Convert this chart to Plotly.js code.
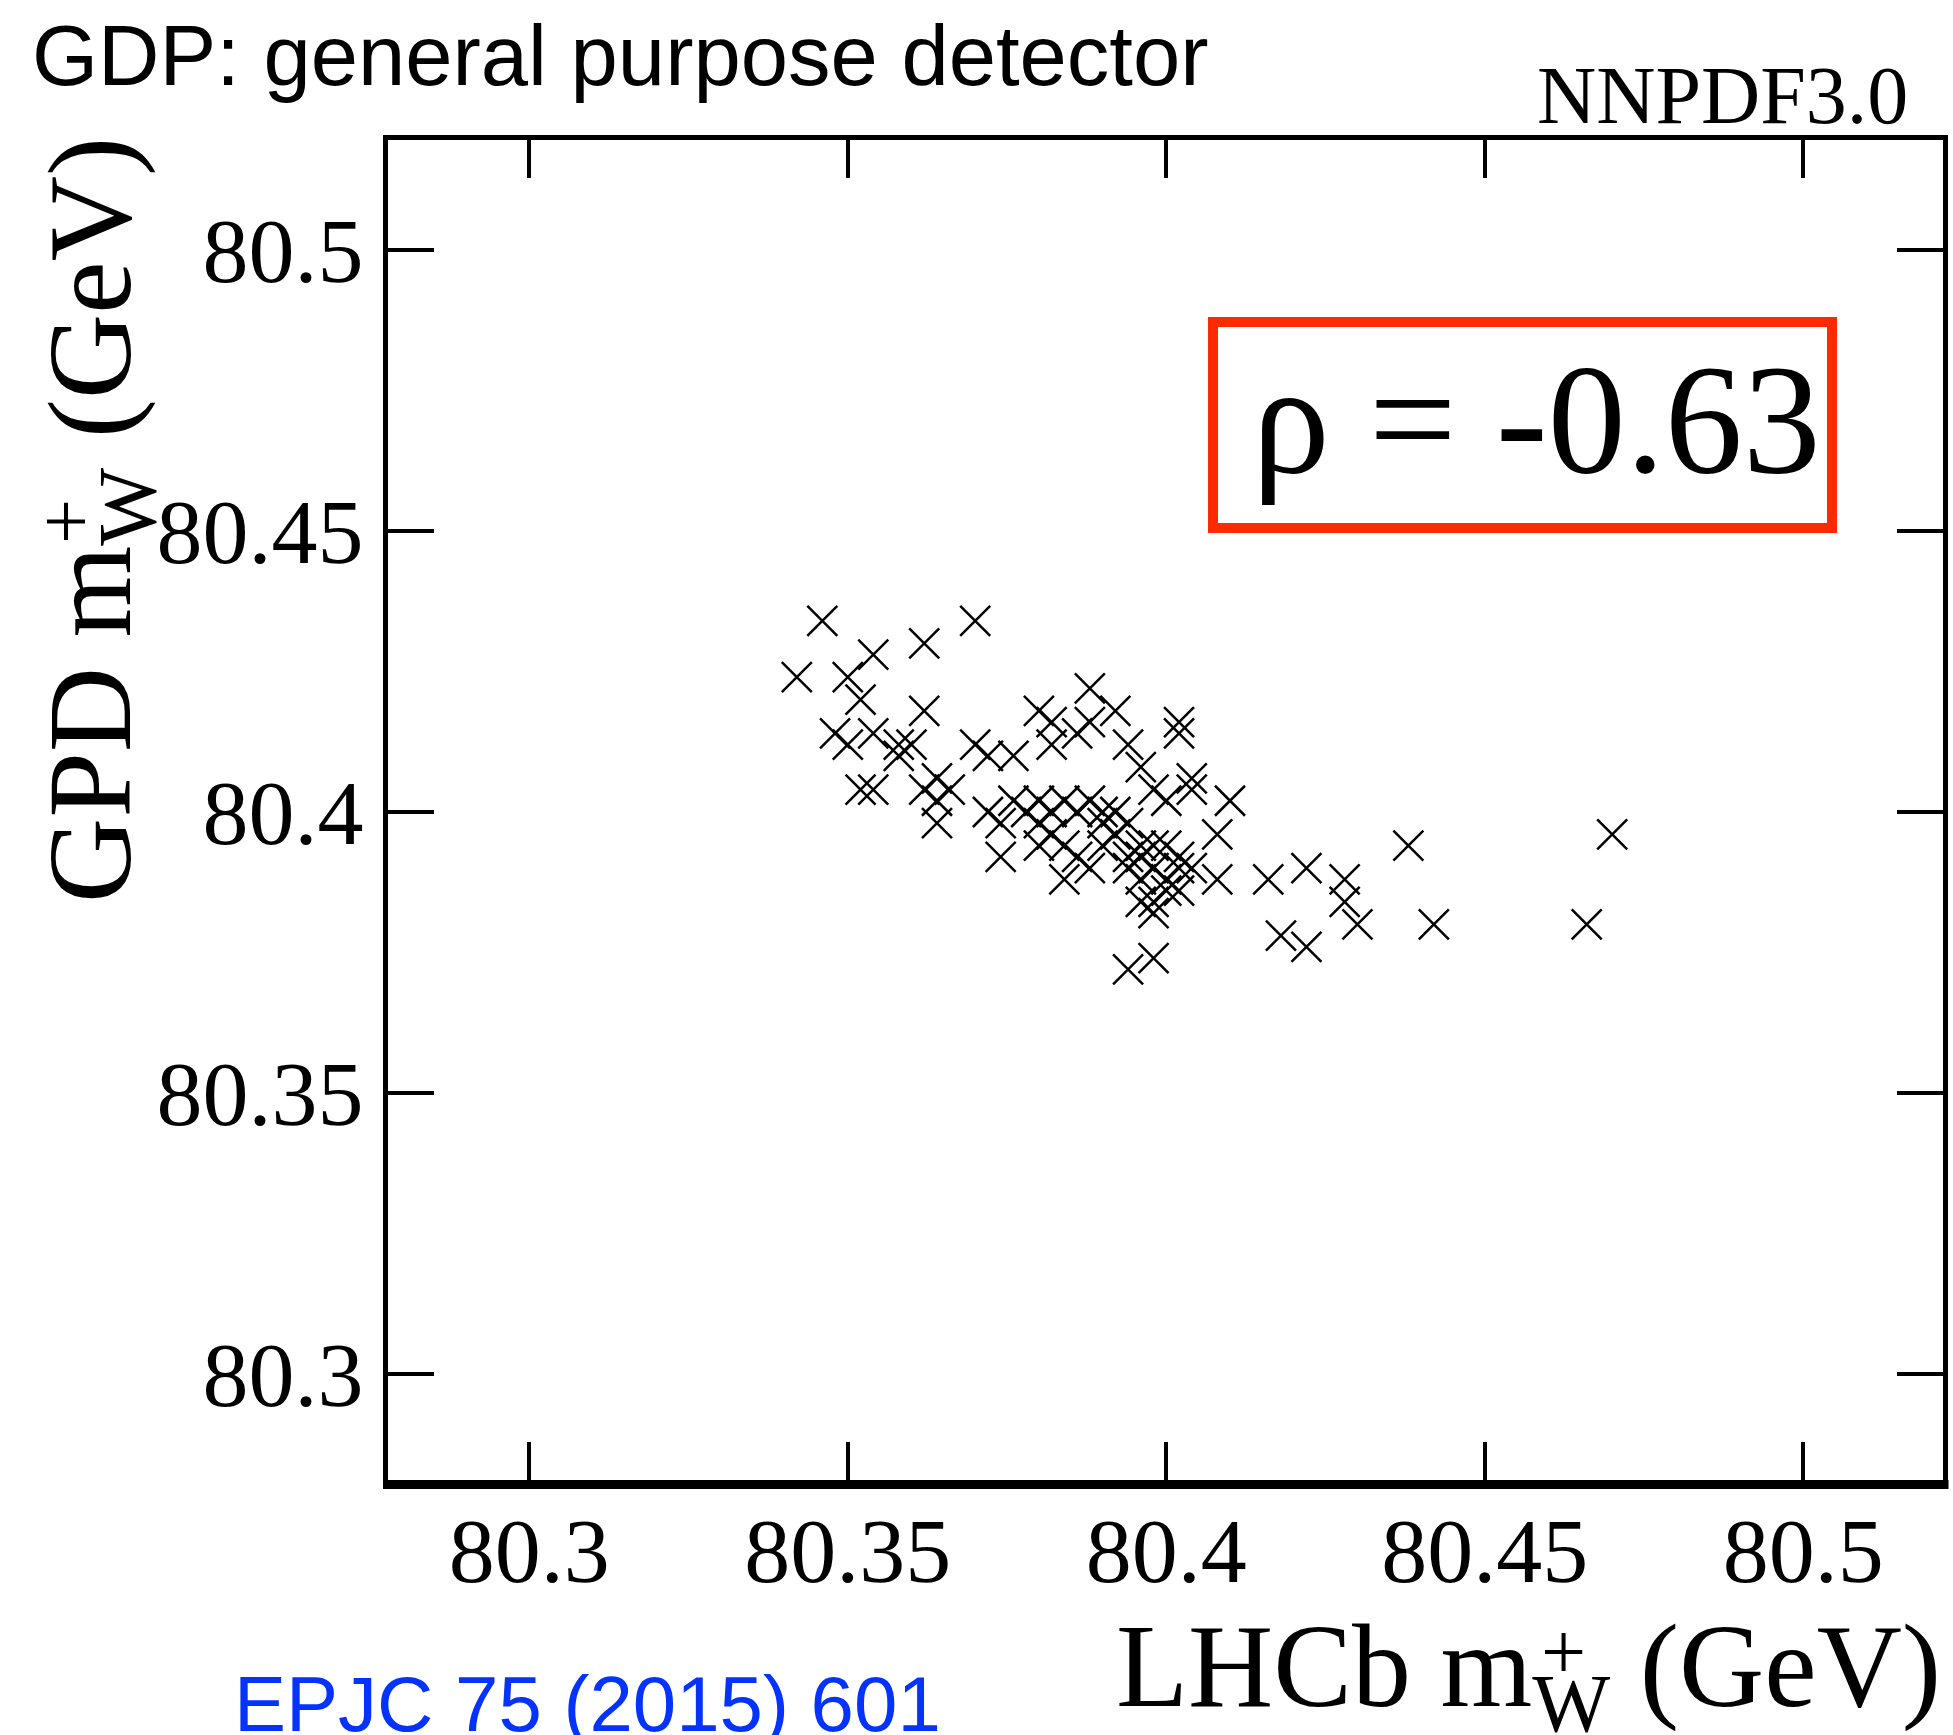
<!DOCTYPE html>
<html><head><meta charset="utf-8">
<script src="https://cdn.plot.ly/plotly-3.0.1.min.js"></script>
<style>html,body{margin:0;padding:0;background:#fff}</style>
</head><body>
<div id="chart" style="width:1953px;height:1735px"></div>
<script>
// LHCb m_W^+ (x) and GPD m_W^+ (y) for each replica, in GeV
const lhcbMw = [
  80.346, 80.370, 80.342, 80.354, 80.362, 80.350, 80.352, 80.362, 80.348, 80.350,
  80.354, 80.358, 80.360, 80.358, 80.352, 80.354, 80.362, 80.364, 80.366, 80.364,
  80.364, 80.370, 80.372, 80.376, 80.388, 80.380, 80.382, 80.388, 80.392, 80.386,
  80.382, 80.394, 80.402, 80.402, 80.396, 80.404, 80.404, 80.398, 80.400, 80.410,
  80.408, 80.376, 80.380, 80.384, 80.388, 80.374, 80.374, 80.372, 80.382, 80.382,
  80.380, 80.384, 80.388, 80.392, 80.396, 80.398, 80.400, 80.402, 80.396, 80.398,
  80.400, 80.390, 80.392, 80.394, 80.390, 80.404, 80.402, 80.398, 80.394, 80.398,
  80.396, 80.386, 80.378, 80.380, 80.384, 80.386, 80.396, 80.394, 80.402, 80.394,
  80.400, 80.398, 80.390, 80.408, 80.416, 80.422, 80.428, 80.428, 80.430, 80.418,
  80.422, 80.438, 80.442, 80.466, 80.470
];
const gpdMw = [
  80.434, 80.434, 80.424, 80.428, 80.430, 80.424, 80.420, 80.418, 80.414, 80.412,
  80.414, 80.412, 80.412, 80.410, 80.404, 80.404, 80.404, 80.406, 80.404, 80.402,
  80.398, 80.412, 80.410, 80.410, 80.422, 80.418, 80.416, 80.416, 80.418, 80.414,
  80.412, 80.412, 80.416, 80.414, 80.408, 80.406, 80.404, 80.404, 80.402, 80.402,
  80.396, 80.402, 80.402, 80.402, 80.402, 80.398, 80.392, 80.400, 80.400, 80.396,
  80.394, 80.388, 80.390, 80.396, 80.388, 80.384, 80.388, 80.390, 80.392, 80.394,
  80.394, 80.394, 80.400, 80.398, 80.398, 80.390, 80.386, 80.374, 80.372, 80.390,
  80.384, 80.400, 80.400, 80.398, 80.394, 80.392, 80.394, 80.392, 80.392, 80.390,
  80.386, 80.382, 80.400, 80.388, 80.388, 80.390, 80.388, 80.384, 80.380, 80.378,
  80.376, 80.394, 80.380, 80.380, 80.396
];
const tickVals = [80.3, 80.35, 80.4, 80.45, 80.5];
const tickText = ['80.3', '80.35', '80.4', '80.45', '80.5'];
const xRange = [80.27782, 80.52193];
const yRange = [80.28114, 80.51957];
const rhoLabel = 'ρ = -0.63';
const titleText = 'GDP: general purpose detector';
const pdfLabel = 'NNPDF3.0';
const refLabel = 'EPJC 75 (2015) 601';
const xTitle = 'LHCb m<sub>W</sub> (GeV)';
const yTitle = 'GPD m<sub>W</sub> (GeV)';
const chargeSign = '+';

// page geometry (pixels)
const W = 1953, H = 1735, L = 388, R = 10, T = 140, B = 255;
const pw = W - L - R, ph = H - T - B;
const px = x => (x - L) / pw;
const py = y => (H - B - y) / ph;

const serif = 'Liberation Serif, Times New Roman, serif';
const sans = 'Liberation Sans, Arial, Helvetica, sans-serif';

const trace = {
  type: 'scatter', mode: 'markers',
  x: lhcbMw, y: gpdMw,
  marker: {symbol: 'x-thin', size: 30, color: '#000', line: {color: '#000', width: 2.5}},
  hoverinfo: 'skip'
};

const axisCommon = {
  showgrid: false, zeroline: false, showline: true, linecolor: '#000', linewidth: 5,
  mirror: 'ticks', ticks: 'inside', tickcolor: '#000', tickwidth: 4,
  tickmode: 'array', tickvals: tickVals, ticktext: tickText,
  tickfont: {family: serif, size: 92, color: '#000'}
};

const layout = {
  width: W, height: H,
  margin: {l: L, r: R, t: T, b: B, pad: 0},
  paper_bgcolor: '#fff', plot_bgcolor: '#fff',
  showlegend: false,
  xaxis: Object.assign({}, axisCommon, {range: xRange, ticklen: 38, ticklabelstandoff: -13}),
  yaxis: Object.assign({}, axisCommon, {range: yRange, ticklen: 46, ticklabelstandoff: 1}),
  shapes: [
    {type: 'line', xref: 'paper', yref: 'paper', x0: px(383), x1: px(1948.5), y0: py(1484.5), y1: py(1484.5),
     line: {color: '#000', width: 9}},
    {type: 'rect', xref: 'paper', yref: 'paper', x0: px(1213), x1: px(1832), y0: py(528), y1: py(322),
     line: {color: '#ff2a00', width: 10}, fillcolor: 'rgba(0,0,0,0)'}
  ],
  annotations: [
    {text: titleText, xref: 'paper', yref: 'paper', x: px(30), y: py(56), xanchor: 'left', yanchor: 'middle',
     showarrow: false, font: {family: sans, size: 85, color: '#000'}},
    {text: pdfLabel, xref: 'paper', yref: 'paper', x: px(1910), y: py(123 - 0.3375 * 82), xanchor: 'right', yanchor: 'middle',
     showarrow: false, font: {family: serif, size: 82, color: '#000'}},
    {text: refLabel, xref: 'paper', yref: 'paper', x: px(232), y: py(1731 - 0.3465 * 78), xanchor: 'left', yanchor: 'middle',
     showarrow: false, font: {family: sans, size: 78, color: '#0433ff'}},
    {text: rhoLabel, xref: 'paper', yref: 'paper', x: px(1536), y: py(472 - 0.3375 * 156), xanchor: 'center', yanchor: 'middle',
     showarrow: false, font: {family: serif, size: 156, color: '#000'}},
    {text: xTitle, xref: 'paper', yref: 'paper', x: px(1943), y: py(1599), xanchor: 'right', yanchor: 'top',
     showarrow: false, font: {family: serif, size: 118, color: '#000'}},
    {text: chargeSign, xref: 'paper', yref: 'paper', x: px(1563), y: py(1652), xanchor: 'center', yanchor: 'middle',
     showarrow: false, font: {family: serif, size: 80, color: '#000'}},
    {text: yTitle, xref: 'paper', yref: 'paper', x: px(99), y: py(520), xanchor: 'center', yanchor: 'middle',
     textangle: -90, showarrow: false, font: {family: serif, size: 118, color: '#000'}},
    {text: chargeSign, xref: 'paper', yref: 'paper', x: px(66), y: py(522), xanchor: 'center', yanchor: 'middle',
     textangle: -90, showarrow: false, font: {family: serif, size: 80, color: '#000'}}
  ]
};

Plotly.newPlot('chart', [trace], layout, {staticPlot: true, displayModeBar: false});
</script>
</body></html>
